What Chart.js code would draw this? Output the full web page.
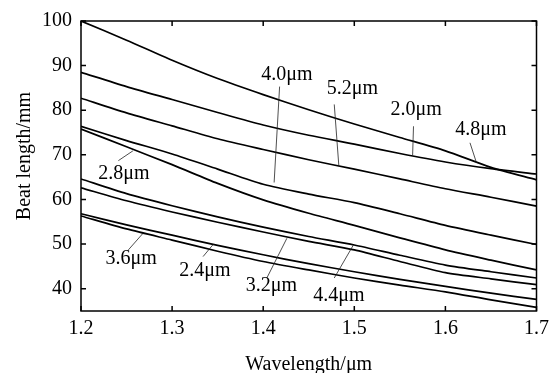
<!DOCTYPE html>
<html>
<head>
<meta charset="utf-8">
<script src="https://cdn.jsdelivr.net/npm/chart.js@4.4.1/dist/chart.umd.min.js"></script>
<style>
  html, body { margin: 0; padding: 0; background: #fff; }
  #wrap { width: 555px; height: 373px; }
</style>
</head>
<body>
<div id="wrap"><canvas id="beat-chart" width="555" height="373"></canvas></div>

<script>
    // wavelength samples (µm)
    const wavelength = [1.2, 1.25, 1.3, 1.35, 1.4, 1.45, 1.5, 1.55, 1.6, 1.65, 1.7];
    const xTicks = [1.2, 1.3, 1.4, 1.5, 1.6, 1.7];
    const yTicks = [40, 50, 60, 70, 80, 90, 100];

    // beat length (mm), one series per pitch
    const beat48 = [100, 95.7, 91.2, 87.1, 83.5, 80.1, 76.9, 73.9, 70.9, 67.2, 64.4];
    const beat20 = [88.5, 85.3, 82.4, 79.5, 76.7, 74.4, 72.4, 70.3, 68.4, 66.9, 65.7];
    const beat52 = [82.7, 79.4, 76.5, 73.6, 71.2, 68.9, 66.8, 64.6, 62.4, 60.5, 58.5];
    const beat40 = [76.4, 73.2, 70.2, 66.8, 63.4, 61.2, 59.3, 56.8, 54.2, 52.0, 49.9];
    const beat28 = [75.8, 71.8, 67.8, 63.6, 59.9, 56.9, 54.2, 51.4, 48.7, 46.4, 44.2];
    const beat44 = [64.6, 61.3, 58.6, 56.1, 53.8, 51.7, 49.8, 47.5, 45.3, 43.8, 42.4];
    const beat32 = [62.6, 59.7, 57.2, 54.9, 52.7, 50.6, 48.7, 46.1, 43.6, 42.2, 40.9];
    const beat24 = [56.8, 54.3, 52.0, 49.7, 47.6, 45.6, 43.8, 42.1, 40.5, 39.0, 37.6];
    const beat36 = [56.3, 53.4, 50.9, 48.4, 46.1, 44.2, 42.4, 40.8, 39.3, 37.5, 35.8];

    const seriesNames = ['4.8μm', '2.0μm', '5.2μm', '4.0μm', '2.8μm', '4.4μm', '3.2μm', '2.4μm', '3.6μm'];
    const seriesData = [beat48, beat20, beat52, beat40, beat28, beat44, beat32, beat24, beat36];

    const FONT = 'Liberation Serif, Times New Roman, serif';

    // label text position + leader line, in data units
    const callouts = [
        { text: '4.0μm', at: [1.426, 88.0], from: [1.418, 85.3], to: [1.412, 63.8] },
        { text: '5.2μm', at: [1.498, 84.9], from: [1.478, 81.3], to: [1.483, 67.6] },
        { text: '2.0μm', at: [1.568, 80.0], from: [1.565, 76.4], to: [1.564, 69.8] },
        { text: '4.8μm', at: [1.639, 75.6], from: [1.627, 72.7], to: [1.634, 68.3] },
        { text: '2.8μm', at: [1.247, 65.8], from: [1.241, 68.7], to: [1.257, 70.9] },
        { text: '3.6μm', at: [1.255, 46.7], from: [1.252, 48.7], to: [1.268, 52.4] },
        { text: '2.4μm', at: [1.336, 44.0], from: [1.334, 47.2], to: [1.345, 49.9] },
        { text: '3.2μm', at: [1.409, 40.7], from: [1.404, 42.4], to: [1.426, 51.3] },
        { text: '4.4μm', at: [1.483, 38.4], from: [1.478, 42.4], to: [1.499, 49.8] }
    ];

    // frame, inward ticks and the callout labels
    const framePlugin = {
        id: 'frame',
        afterDatasetsDraw(chart) {
            const { ctx, chartArea: a, scales: { x, y } } = chart;
            const t = 5;
            ctx.save();
            ctx.strokeStyle = '#000';
            ctx.lineWidth = 1.5;
            ctx.strokeRect(a.left, a.top, a.right - a.left, a.bottom - a.top);
            ctx.beginPath();
            xTicks.forEach(v => {
                const px = x.getPixelForValue(v);
                ctx.moveTo(px, a.bottom); ctx.lineTo(px, a.bottom - t);
                ctx.moveTo(px, a.top); ctx.lineTo(px, a.top + t);
            });
            yTicks.forEach(v => {
                const py = y.getPixelForValue(v);
                ctx.moveTo(a.left, py); ctx.lineTo(a.left + t, py);
                ctx.moveTo(a.right, py); ctx.lineTo(a.right - t, py);
            });
            ctx.stroke();

            ctx.lineWidth = 0.8;
            ctx.strokeStyle = '#222';
            ctx.fillStyle = '#000';
            ctx.font = '20px ' + FONT;
            ctx.textAlign = 'center';
            ctx.textBaseline = 'middle';
            callouts.forEach(c => {
                ctx.beginPath();
                ctx.moveTo(x.getPixelForValue(c.from[0]), y.getPixelForValue(c.from[1]));
                ctx.lineTo(x.getPixelForValue(c.to[0]), y.getPixelForValue(c.to[1]));
                ctx.stroke();
                ctx.fillText(c.text, x.getPixelForValue(c.at[0]), y.getPixelForValue(c.at[1]));
            });
            ctx.restore();
        }
    };

    function initBeat() {
        const ctx = document.getElementById('beat-chart').getContext('2d');
        new Chart(ctx, {
            type: 'line',
            data: {
                datasets: seriesData.map((d, i) => ({
                    label: seriesNames[i],
                    data: d.map((v, j) => ({ x: wavelength[j], y: v })),
                    borderColor: '#000', borderWidth: 1.7,
                    pointRadius: 0, tension: 0.25, fill: false
                }))
            },
            options: {
                responsive: false, animation: false,
                layout: { padding: { left: 0, top: 19, right: 16, bottom: 0 } },
                plugins: { legend: { display: false }, tooltip: { enabled: false } },
                scales: {
                    x: {
                        type: 'linear', min: 1.2, max: 1.7,
                        afterBuildTicks: s => { s.ticks = xTicks.map(v => ({ value: v })); },
                        afterFit: s => { s.height = 62; },
                        grid: { display: false, drawTicks: false },
                        border: { display: false },
                        ticks: { color: '#000', padding: 6, font: { family: FONT, size: 20 },
                                 callback: v => v.toFixed(1) },
                        title: { display: true, text: 'Wavelength/μm', color: '#000',
                                 font: { family: FONT, size: 20 }, padding: { top: 0, bottom: -4 } }
                    },
                    y: {
                        min: 35, max: 100,
                        afterBuildTicks: s => { s.ticks = yTicks.map(v => ({ value: v })); },
                        afterFit: s => { s.width = 81; },
                        grid: { display: false, drawTicks: false },
                        border: { display: false },
                        ticks: { color: '#000', padding: 9, font: { family: FONT, size: 20 } },
                        // leading spaces nudge the rotated title up to where the original sits
                        title: { display: true, text: '    Beat length/mm', color: '#000',
                                 font: { family: FONT, size: 20 }, padding: { top: 13, bottom: 0 } }
                    }
                }
            },
            plugins: [framePlugin]
        });
    }
    requestAnimationFrame(initBeat);
</script>
</body>
</html>
